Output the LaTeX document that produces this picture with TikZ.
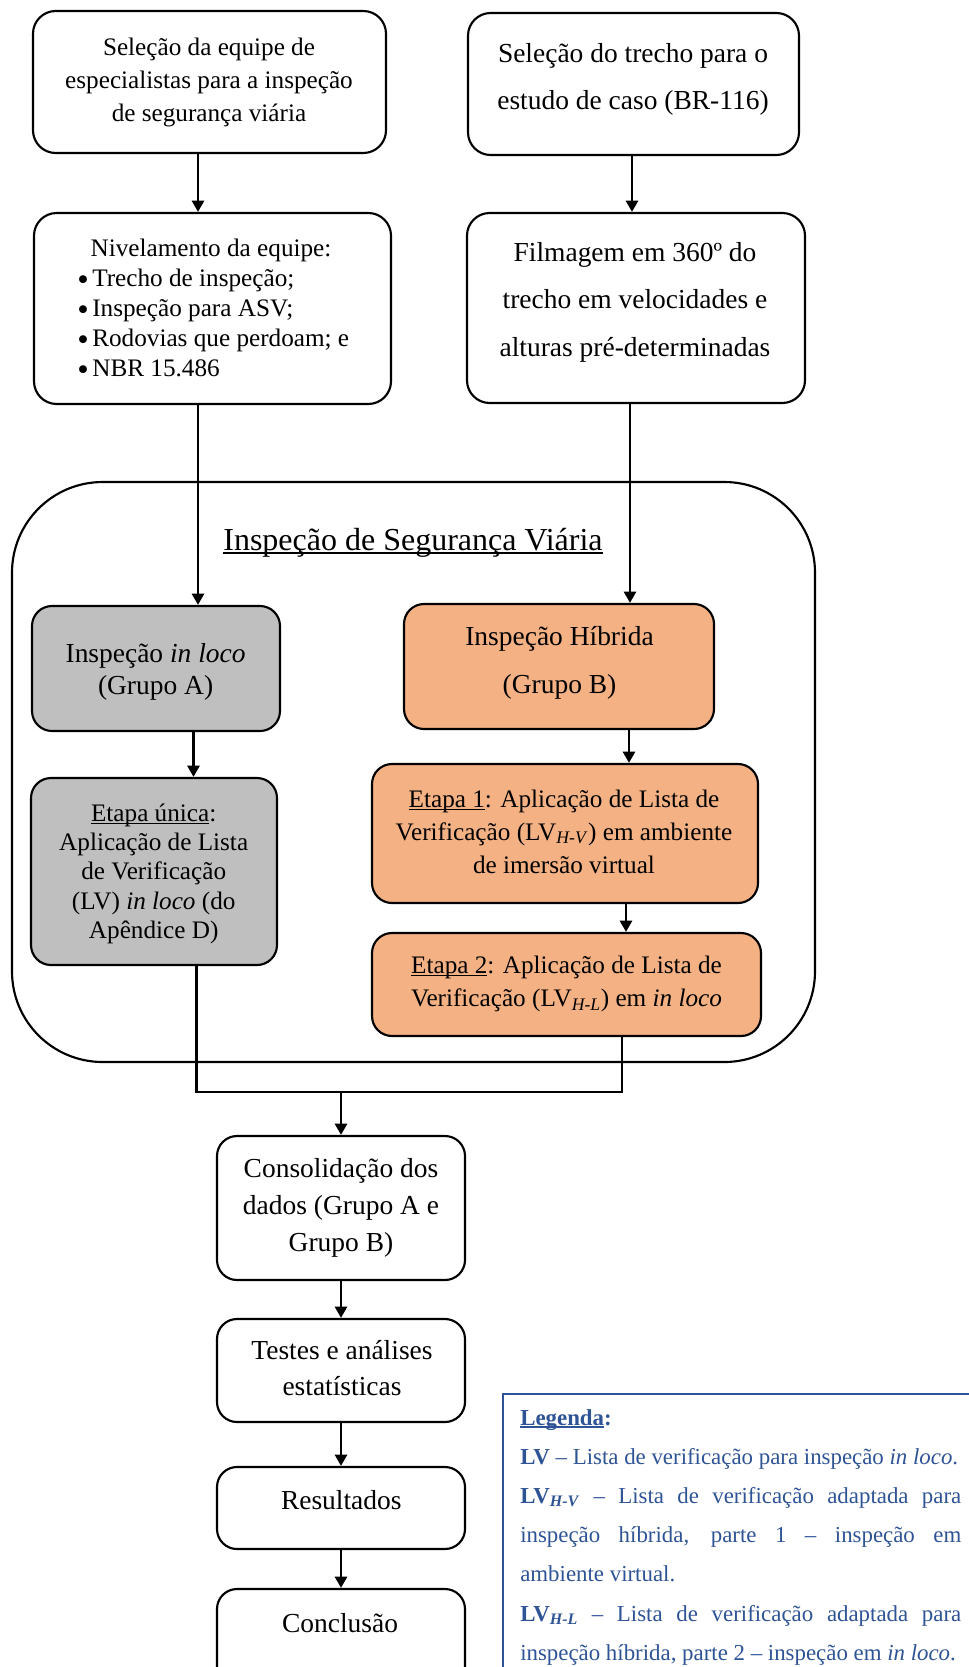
\documentclass[tikz,border=0pt]{standalone}
\usepackage{fontspec}
\setmainfont{Liberation Serif}
\usetikzlibrary{arrows.meta,fit}

\definecolor{grayfill}{RGB}{191,191,191}
\definecolor{orangefill}{RGB}{244,177,131}
\definecolor{legendblue}{RGB}{47,84,150}

% underline drawn at a fixed depth below the baseline
\newcommand{\ulx}[1]{\setbox0\hbox{#1}\rlap{\rule[-0.12em]{\wd0}{0.06em}}\box0}
% font size / line spacing
\newcommand{\fs}[2]{\fontsize{#1}{#2}\selectfont}
% stacked centred lines, baseline on the first line
\newcommand{\lines}[1]{\begin{tabular}[t]{@{}c@{}}#1\end{tabular}}
\newcommand{\llines}[1]{\begin{tabular}[t]{@{}l@{}}#1\end{tabular}}
\newcommand{\bul}{\makebox[11.3pt][l]{\smash{\raisebox{-3pt}{\scalebox{1.3}{\textbullet}}}}}

\tikzset{
  box/.style={draw, line width=1.6pt, rounded corners=15pt, inner sep=0pt},
  tbox/.style={box, rounded corners=17pt},
  graybox/.style={box, fill=grayfill},
  orangebox/.style={box, fill=orangefill},
  arr/.style={line width=2.2pt, -{Triangle[length=8.5pt,width=9pt]}},
  link/.style={line width=2.2pt},
  lbl/.style={anchor=base, inner sep=0pt},
}

\begin{document}
\begin{tikzpicture}[x=0.75pt,y=-0.75pt]
\useasboundingbox (0,0) rectangle (969,1667);
\fill[white] (0,0) rectangle (969,1667);
\begin{scope}
\clip (0,0) rectangle (969,1667);

% columns used by the vertical connectors
\coordinate (cA) at (198,0);
\coordinate (cB) at (632,0);
\coordinate (cC) at (630,0);
\coordinate (cD) at (193.5,0);
\coordinate (cE) at (629,0);
\coordinate (cF) at (626,0);
\coordinate (jL) at (196.5,1092);
\coordinate (jR) at (622,1092);
\coordinate (jM) at (341,1092);

% outer group: road safety inspection
\node[draw, line width=1.6pt, rounded corners=68pt, inner sep=0pt,
      fit={(12,482) (815,1062)}] (isv) {};
\node[lbl, font=\fs{24}{28}] (isvtitle) at (413,550)
  {\ulx{Inspeção de Segurança Viária}};

% top row
\node[tbox, fit={(33,11) (386,153)}] (b1) {};
\node[lbl, font=\fs{18.9}{25}] (t1) at (209,55)
  {\lines{Seleção da equipe de\\especialistas para a inspeção\\de segurança viária}};

\node[tbox, fit={(468,13) (799,155)}] (b2) {};
\node[lbl, font=\fs{20.6}{35.25}] (t2) at (633,62.3)
  {\lines{Seleção do trecho para o\\estudo de caso (BR-116)}};

% second row
\node[tbox, fit={(34,213) (391,404)}] (b3) {};
\node[lbl, font=\fs{18.9}{22.5}] (t3) at (211,256) {Nivelamento da equipe:};
\node[anchor=base west, inner sep=0pt, font=\fs{18.9}{22.5}] (t3list) at (77,286)
  {\llines{\bul Trecho de inspeção;\\\bul Inspeção para ASV;\\\bul Rodovias que perdoam; e\\\bul NBR 15.486}};

\node[tbox, fit={(467,213) (805,403)}] (b4) {};
\node[lbl, font=\fs{20.6}{35.4}] (t4) at (635,261.7)
  {\lines{Filmagem em 360º do\\trecho em velocidades e\\alturas pré-determinadas}};

% group A
\node[graybox, fit={(32,606) (280,731)}] (b5) {};
\node[lbl, font=\fs{20.6}{24}] (t5) at (155.6,662.5)
  {\lines{Inspeção \textit{in loco}\\(Grupo A)}};

\node[graybox, fit={(31,778) (277,965)}] (b7) {};
\node[lbl, font=\fs{18.9}{22}] (t7) at (153.7,821)
  {\lines{\ulx{Etapa única}:\\Aplicação de Lista\\de Verificação\\(LV) \textit{in loco} (do\\Apêndice D)}};

% group B
\node[orangebox, fit={(404,604) (714,729)}] (b6) {};
\node[lbl, font=\fs{20.6}{35.6}] (t6) at (559.5,645.8)
  {\lines{Inspeção Híbrida\\(Grupo B)}};

\node[orangebox, fit={(372,764) (758,903)}] (b8) {};
\node[lbl, font=\fs{18.9}{24.75}] (t8) at (564,807)
  {\lines{\ulx{Etapa 1}: Aplicação de Lista de\\Verificação (LV\textsubscript{\textit{H-V}}) em ambiente\\de imersão virtual}};

\node[orangebox, fit={(372,933) (761,1036)}] (b9) {};
\node[lbl, font=\fs{18.9}{25.3}] (t9) at (566.5,973)
  {\lines{\ulx{Etapa 2}: Aplicação de Lista de\\Verificação (LV\textsubscript{\textit{H-L}}) em \textit{in loco}}};

% final sequence
\node[box, fit={(217,1136) (465,1280)}] (b10) {};
\node[lbl, font=\fs{20.6}{27.9}] (t10) at (341,1177.5)
  {\lines{Consolidação dos\\dados (Grupo A e\\Grupo B)}};

\node[box, fit={(217,1319) (465,1422)}] (b11) {};
\node[lbl, font=\fs{20.6}{27.5}] (t11) at (342,1359)
  {\lines{Testes e análises\\estatísticas}};

\node[box, fit={(217,1467) (465,1549)}] (b12) {};
\node[lbl, font=\fs{20.6}{25}] (t12) at (341.3,1509) {Resultados};

\node[box, fit={(217,1589) (465,1720)}] (b13) {};
\node[lbl, font=\fs{20.6}{25}] (t13) at (340,1632) {Conclusão};

% connectors
\draw[arr] (b1.south -| cA) -- (b3.north -| cA);
\draw[arr] (b2.south -| cB) -- (b4.north -| cB);
\draw[arr] (b3.south -| cA) -- (b5.north -| cA);
\draw[arr] (b4.south -| cC) -- (b6.north -| cC);
\draw[arr] (b5.south -| cD) -- (b7.north -| cD);
\draw[arr] (b6.south -| cE) -- (b8.north -| cE);
\draw[arr] (b8.south -| cF) -- (b9.north -| cF);
\draw[link] (b7.south -| jL) -- (jL) -- (jR) -- (b9.south -| jR);
\draw[arr] (jM) -- (b10.north);
\draw[arr] (b10.south) -- (b11.north);
\draw[arr] (b11.south) -- (b12.north);
\draw[arr] (b12.south) -- (b13.north);

% legend
\node[draw=legendblue, line width=1.1pt, inner sep=0pt,
      fit={(503,1394) (1000,1720)}] (legend) {};
\node[anchor=base west, inner sep=0pt, text=legendblue, font=\fs{17.15}{29.4}]
  (legendtext) at (520,1425)
  {\parbox[t]{330.75pt}{\setlength{\parindent}{0pt}%
    \textbf{\ulx{Legenda}:}\\
    \textbf{LV} – Lista de verificação para inspeção \textit{in loco}.\\
    \makebox[\linewidth][s]{\textbf{LV\textsubscript{\textit{H-V}}} – Lista de verificação adaptada para}\\
    \makebox[\linewidth][s]{inspeção híbrida, parte 1 – inspeção em}\\
    ambiente virtual.\\
    \makebox[\linewidth][s]{\textbf{LV\textsubscript{\textit{H-L}}} – Lista de verificação adaptada para}\\
    inspeção híbrida, parte 2 – inspeção em \textit{in loco}.}};

\end{scope}
\end{tikzpicture}
\end{document}
